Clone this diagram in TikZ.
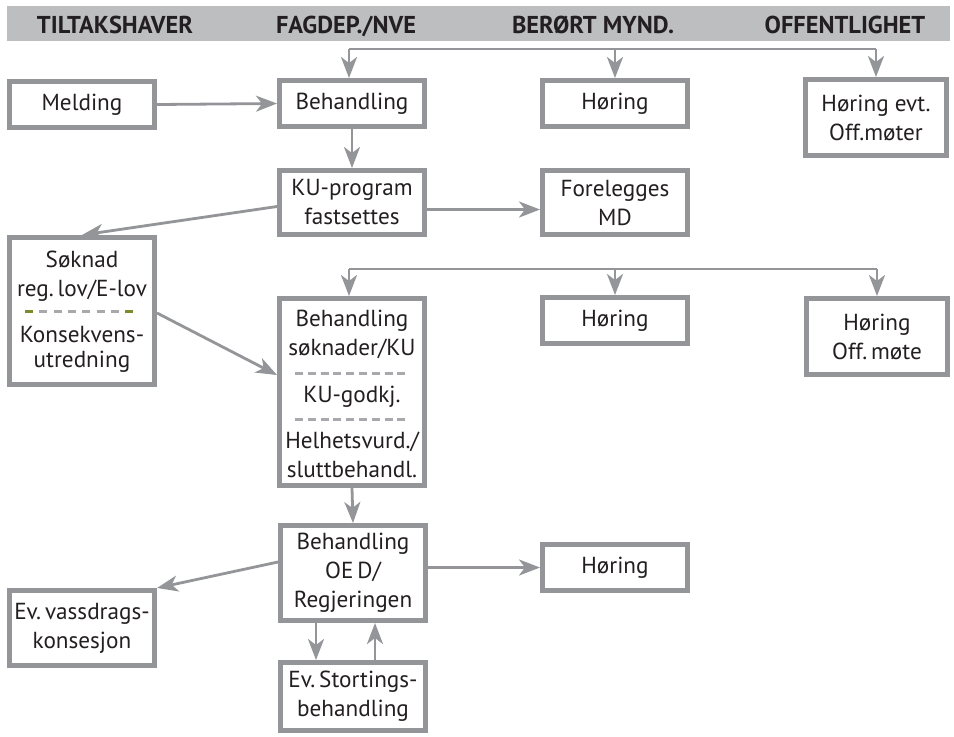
\documentclass[tikz,border=0pt]{standalone}
\usepackage{fontspec}
\setmainfont{PT Sans}
\usetikzlibrary{arrows.meta,calc}

\definecolor{boksgraa}{HTML}{939598}
\definecolor{feltgraa}{HTML}{BCBEC0}
\definecolor{strekgraa}{HTML}{A7A9AC}
\definecolor{strekgroenn}{HTML}{7D8A2E}
\definecolor{tekstfarge}{HTML}{231F20}

\tikzset{
  boks/.style={draw=boksgraa, line width=2.5pt, fill=white, minimum width=72.5pt,
    minimum height=23pt, inner sep=0pt, align=center, text=tekstfarge,
    font=\fontsize{11.6}{14.5}\selectfont},
  pil/.style={draw=boksgraa, line width=1.4pt,
    -{Stealth[length=10.5pt,width=8pt,inset=3pt]}},
  linje/.style={draw=boksgraa, line width=1.4pt},
  skille/.style={draw=strekgraa, line width=1.5pt, dash pattern=on 4pt off 2.4pt},
  tekst/.style={text=tekstfarge, font=\fontsize{11.6}{14.5}\selectfont,
    inner sep=0pt, anchor=base},
  kolonne/.style={text=tekstfarge, font=\bfseries\fontsize{12.2}{14}\selectfont,
    inner sep=0pt, anchor=base},
}

\begin{document}
\begin{tikzpicture}[x=0.5pt, y=-0.5pt]
        \useasboundingbox (0,0) rectangle (954,736);

        % Kolonner
        \fill[feltgraa] (7,6) rectangle (950,41);
        \node[kolonne] (k1) at (115,33) {TILTAKSHAVER};
        \node[kolonne] (k2) at (346,33) {FAGDEP./NVE};
        \node[kolonne] (k3) at (593,33) {BERØRT MYND.};
        \node[kolonne] (k4) at (845,33) {OFFENTLIGHET};

        % Bokser
        \node[boks] (melding) at (82,104.5) {Melding};
        \node[boks] (beh1) at (352,103.5) {Behandling};
        \node[boks] (hor1) at (615,103.5) {Høring};
        \node[boks, minimum width=70.5pt, minimum height=38pt] (horevt) at (876,117.5) {Høring evt.\\Off.møter};
        \node[boks, minimum height=32pt] (ku) at (352,202.5) {KU-program\\fastsettes};
        \node[boks, minimum height=32pt] (md) at (615,202.5) {Forelegges\\MD};
        \node[boks, minimum height=73.5pt] (soknad) at (82,311) {};
        \node[boks, minimum height=93.5pt] (bsok) at (352,392) {};
        \node[boks] (hor2) at (615,320.5) {Høring};
        \node[boks, minimum width=70.5pt, minimum height=38pt] (horoff) at (877,336.5) {Høring\\Off.\,møte};
        \node[boks, minimum height=47.5pt] (oed) at (353,573) {Behandling\\OE\,D/\\Regjeringen};
        \node[boks] (hor3) at (615,567.5) {Høring};
        \node[boks, minimum height=37.5pt] (vass) at (82,628) {Ev.\,vassdrags-\\konsesjon};
        \node[boks, minimum height=34pt] (stor) at (353,696.5) {Ev.\,Stortings-\\behandling};

        % Tekst i søknadsboksen
        \node[tekst] (s1) at (82,267) {Søknad};
        \node[tekst] (s2) at (82,296) {reg.\,lov/E-lov};
        \node[tekst] (s3) at (82,342) {Konsekvens-};
        \node[tekst] (s4) at (82,367) {utredning};
        \draw[skille, dash pattern=on 4pt off 3.15pt] (25,311) -- (133,311);
        \draw[skille, draw=strekgroenn, dash pattern=on 4pt off 3.15pt] (25,311) -- (33,311);
        \draw[skille, draw=strekgroenn, dash pattern=on 4pt off 3.15pt] (125,311) -- (133,311);

        % Tekst i behandlingsboksen
        \node[tekst] (b1) at (352,326) {Behandling};
        \node[tekst] (b2) at (352,355) {søknader/KU};
        \node[tekst] (b3) at (352,402) {KU-godkj.};
        \node[tekst] (b4) at (352,448) {Helhetsvurd./};
        \node[tekst] (b5) at (352,477) {sluttbehandl.};
        \draw[skille] (295,373) -- (405,373);
        \draw[skille] (295,419) -- (405,419);

        % Høringer
        \coordinate (buss1) at (349,49);
        \draw[linje] (buss1) -- (buss1 -| horevt.north);
        \draw[pil] (buss1) -- (buss1 |- beh1.north);
        \draw[pil] (buss1 -| hor1.north) -- (hor1.north);
        \draw[pil] (buss1 -| horevt.north) -- (horevt.north);

        \coordinate (buss2) at (349,269);
        \draw[linje] (buss2) -- (buss2 -| horoff.north);
        \draw[pil] (buss2) -- (buss2 |- bsok.north);
        \draw[pil] (buss2 -| hor2.north) -- (hor2.north);
        \draw[pil] (buss2 -| horoff.north) -- (horoff.north);

        % Piler
        \draw[pil] (melding.east) -- (beh1.west);
        \draw[pil] (beh1.south) -- (ku.north);
        \draw[pil] ($(ku.east)+(0,7)$) -- ($(md.west)+(0,7)$);
        \draw[pil] ($(ku.west)+(0,4)$) -- (soknad.north);
        \draw[pil] ($(soknad.east)+(0,2)$) -- ($(bsok.west)+(0,-17)$);
        \draw[pil] (bsok.south) -- (oed.north);
        \draw[pil] (oed.east |- hor3.west) -- (hor3.west);
        \draw[pil] ($(oed.west)+(0,-11)$) -- (vass.north east);
        \draw[pil] ($(oed.south)+(-37,0)$) -- ($(stor.north)+(-37,0)$);
        \draw[pil] ($(stor.north)+(22,0)$) -- ($(oed.south)+(22,0)$);
    \end{tikzpicture}
\end{document}
